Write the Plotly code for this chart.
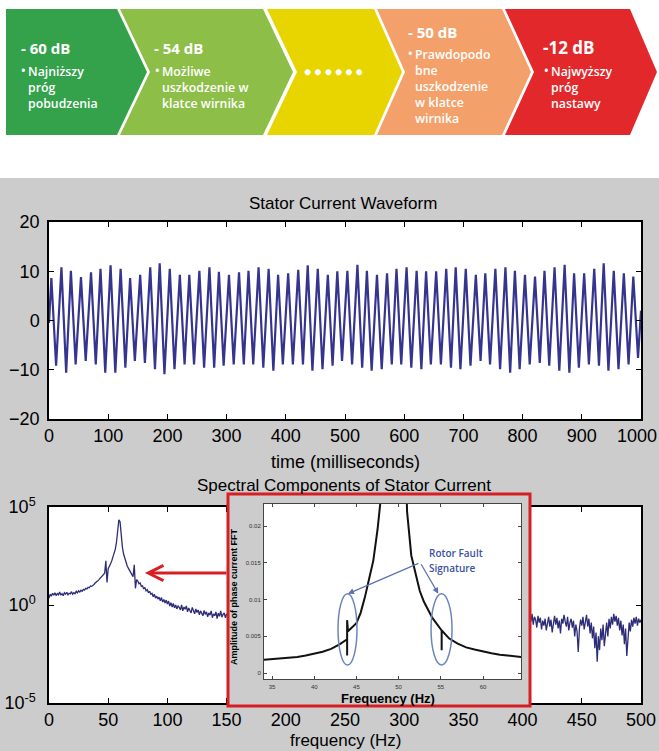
import plotly.graph_objects as go

W, H = 659, 751
def px(x):
    return x / W
def py(y):
    return 1 - y / H

GRAY = "#cccccc"
FONT = "Liberation Sans, Arial, sans-serif"

# ---------------- banner data ----------------
banner_colors = ["#33a24b", "#8dbe48", "#e8d500", "#f4a06b", "#e2282b"]
banner_headers = ["- 60 dB", "- 54 dB", "", "- 50 dB", "-12 dB"]
banner_lines = [
    ["Najniższy", "próg", "pobudzenia"],
    ["Możliwe", "uszkodzenie w", "klatce wirnika"],
    [],
    ["Prawdopodo", "bne", "uszkodzenie", "w klatce", "wirnika"],
    ["Najwyższy", "próg", "nastawy"],
]

# ---------------- waveform data (ms, A) ----------------
time_ticks = [0, 100, 200, 300, 400, 500, 600, 700, 800, 900, 1000]
peak_t = [4, 21, 37, 54, 71, 87, 104, 121, 137, 154, 171, 187, 204, 221, 237, 254, 271, 287, 304, 321,
          337, 354, 371, 387, 404, 421, 437, 454, 471, 487, 504, 521, 537, 554, 571, 587, 604, 621, 637, 654,
          671, 687, 704, 721, 737, 754, 771, 787, 804, 821, 837, 854, 871, 887, 904, 921, 937, 954, 971, 987]
peak_i = [8.6, 10.8, 10.1, 8.8, 9.8, 10.5, 11.2, 10.5, 8.6, 9.3, 10.8, 11.6, 10.5, 9.3, 9.3, 10.1, 10.8, 9.9, 9.3, 9.8,
          10.1, 10.8, 10.5, 9.3, 9.6, 10.3, 11.2, 10.5, 9.3, 10.0, 10.1, 11.3, 10.1, 9.3, 9.6, 10.5, 10.8, 10.1, 10.0, 10.0,
          10.5, 10.8, 10.5, 9.3, 9.6, 10.5, 10.8, 10.1, 9.3, 8.9, 10.1, 10.8, 11.3, 9.6, 9.6, 10.5, 11.6, 10.1, 9.6, 8.9]
trough_t = [12, 29, 45, 62, 79, 95, 112, 129, 145, 162, 179, 195, 212, 229, 245, 262, 279, 295, 312, 329,
            345, 362, 379, 395, 412, 429, 445, 462, 479, 495, 512, 529, 545, 562, 579, 595, 612, 629, 645, 662,
            679, 695, 712, 729, 745, 762, 779, 795, 812, 829, 845, 862, 879, 895, 912, 929, 945, 962, 979, 995]
trough_i = [-9.2, -10.6, -8.9, -8.2, -8.9, -10.6, -10.6, -9.6, -8.2, -8.6, -9.9, -10.9, -9.9, -8.9, -8.9, -9.6, -9.6, -9.2, -8.9, -8.9,
            -8.9, -9.6, -10.2, -8.9, -8.9, -8.9, -10.2, -9.9, -9.2, -8.2, -8.9, -9.6, -10.2, -9.9, -8.9, -8.9, -9.6, -9.9, -8.9, -8.9,
            -9.6, -9.9, -9.2, -8.2, -8.9, -9.9, -10.6, -9.9, -8.9, -8.6, -9.2, -10.2, -10.6, -9.6, -8.9, -9.2, -10.2, -9.9, -8.9, -7.6]
wave_start = [0, -0.5]
wave_end = [1000, 2.0]

# ---------------- spectrum data (Hz, log10 amplitude) ----------------
freq_ticks = [0, 50, 100, 150, 200, 250, 300, 350, 400, 450, 500]
spec_left_f = list(range(0, 152))
spec_left_log = [
    0.35, 0.55, 0.45, 0.60, 0.50, 0.62, 0.48, 0.58, 0.52, 0.66,
    0.50, 0.58, 0.47, 0.62, 0.55, 0.65, 0.52, 0.60, 0.57, 0.68,
    0.55, 0.63, 0.58, 0.70, 0.62, 0.72, 0.66, 0.75, 0.70, 0.80,
    0.76, 0.85, 0.82, 0.90, 0.88, 0.97, 0.95, 1.03, 1.05, 1.12,
    1.15, 1.22, 1.28, 1.35, 1.42, 1.50, 1.58, 1.62, 2.25, 1.15,
    1.85, 1.95, 2.10, 2.25, 2.42, 2.62, 2.85, 3.20, 3.70, 4.35,
    4.25, 3.55, 2.95, 2.60, 2.35, 2.15, 2.00, 1.88, 1.75, 1.65,
    1.55, 1.45, 2.05, 0.85, 1.30, 1.22, 1.08, 1.12, 0.95, 0.98,
    0.82, 0.90, 0.72, 0.78, 0.62, 0.70, 0.55, 0.60, 0.42, 0.55,
    0.35, 0.45, 0.30, 0.40, 0.22, 0.38, 0.15, 0.28, 0.10, 0.25,
    0.05, 0.20, -0.05, 0.12, -0.10, 0.08, -0.15, 0.00, -0.20, -0.05,
    -0.12, -0.25, 0.00, -0.30, -0.10, -0.22, -0.05, -0.35, -0.15, -0.28,
    -0.40, -0.12, -0.30, -0.45, -0.20, -0.38, -0.25, -0.50, -0.30, -0.42,
    -0.55, -0.28, -0.48, -0.35, -0.60, -0.40, -0.52, -0.30, -0.65, -0.45,
    -0.55, -0.35, -0.70, -0.42, -0.58, -0.30, -0.62, -0.48, -0.40, -0.65,
    -0.45, -0.55]
spec_right_f = list(range(406, 501))
spec_right_log = [
    -0.55, -0.85, -0.45, -1.00, -0.60, -0.75, -1.15, -0.55, -0.90, -0.65,
    -1.25, -0.80, -1.05, -0.70, -1.30, -0.85, -0.60, -1.10, -0.75, -1.40,
    -0.90, -0.55, -1.00, -0.65, -1.20, -0.80, -1.45, -0.70, -0.95, -0.50,
    -0.85, -1.10, -0.60, -1.30, -0.90, -0.70, -1.15, -0.80, -1.60, -1.00,
    -1.35, -2.40, -1.20, -0.75, -1.05, -0.60, -1.25, -0.85, -0.50, -1.10,
    -0.70, -1.45, -0.90, -1.70, -1.10, -2.20, -1.40, -2.90, -1.60, -2.30,
    -1.20, -1.80, -1.00, -2.10, -1.30, -0.90, -1.60, -0.70, -1.20, -0.60,
    -1.00, -0.45, -0.85, -0.55, -1.05, -0.65, -1.30, -0.80, -1.55, -1.00,
    -2.00, -1.20, -2.60, -1.50, -0.90, -1.35, -0.75, -1.10, -0.65, -0.95,
    -0.60, -1.05, -0.70, -0.90, -0.75]

# ---------------- inset FFT data ----------------
inset_f = [34, 35, 36, 37, 38, 39, 40, 41, 42, 43, 43.9, 43.9, 43.9, 44.0, 44.5, 45, 45.5, 46, 46.5, 47,
           47.5, 48, 48.5, 49, 49.5, 50, 50.5, 51, 51.5, 52, 52.5, 53, 54, 55.1, 55.1, 55.1, 55.2, 56, 57, 58,
           59, 60, 61, 62, 63, 64, 64.5]
inset_a = [0.0018, 0.0019, 0.0020, 0.0021, 0.0022, 0.0024, 0.0026, 0.0029, 0.0033, 0.0039, 0.0046, 0.0024, 0.0072,
           0.0057, 0.0062, 0.0068, 0.0082, 0.0103, 0.0128, 0.0153, 0.0195, 0.025, 0.040, 0.090, 0.300, 0.150,
           0.045, 0.022, 0.016, 0.0135, 0.0112, 0.0097, 0.0075, 0.0058, 0.0031, 0.0058, 0.0057, 0.0047, 0.0040,
           0.0035, 0.0032, 0.0029, 0.0027, 0.0025, 0.0024, 0.0022, 0.0022]

# ---------------- build figure ----------------
fig = go.Figure()

wave_x = [wave_start[0]]
wave_y = [wave_start[1]]
for tp, ip, tt, it in zip(peak_t, peak_i, trough_t, trough_i):
    wave_x += [tp, tt]
    wave_y += [ip, it]
wave_x.append(wave_end[0])
wave_y.append(wave_end[1])

fig.add_trace(go.Scatter(x=wave_x, y=wave_y, mode="lines",
                         line=dict(color="#35358f", width=2.2),
                         xaxis="x", yaxis="y", showlegend=False, hoverinfo="skip"))

fig.add_trace(go.Scatter(x=spec_left_f, y=[10 ** v for v in spec_left_log], mode="lines",
                         line=dict(color="#2c2c78", width=1.3),
                         xaxis="x2", yaxis="y2", showlegend=False, hoverinfo="skip"))
fig.add_trace(go.Scatter(x=spec_right_f, y=[10 ** v for v in spec_right_log], mode="lines",
                         line=dict(color="#2c2c78", width=1.3),
                         xaxis="x2", yaxis="y2", showlegend=False, hoverinfo="skip"))

# gray backing panel of inset (dummy subplot)
fig.add_trace(go.Scatter(x=[0, 1, 1, 0, 0], y=[0, 0, 1, 1, 0], mode="lines", fill="toself",
                         fillcolor=GRAY, line=dict(width=0),
                         xaxis="x3", yaxis="y3", showlegend=False, hoverinfo="skip"))

fig.add_trace(go.Scatter(x=inset_f, y=inset_a, mode="lines",
                         line=dict(color="#111111", width=2),
                         xaxis="x4", yaxis="y4", showlegend=False, hoverinfo="skip"))

axis_common = dict(showline=True, linecolor="black", linewidth=1.5, mirror="ticks",
                   ticks="inside", ticklen=5, tickwidth=1.3, tickcolor="black",
                   showgrid=False, zeroline=False, automargin=False, ticklabeloverflow="allow",
                   tickfont=dict(family=FONT, size=18, color="black"))

inset_axis = dict(showline=True, linecolor="#444444", linewidth=1, mirror="ticks",
                  ticks="inside", ticklen=3, tickwidth=1, tickcolor="#444444",
                  showgrid=False, zeroline=False, automargin=False, ticklabeloverflow="allow",
                  tickfont=dict(family=FONT, size=6, color="#333333"))

time_text = [str(v) for v in time_ticks[:-1]] + [""]

fig.update_layout(
    width=W, height=H, autosize=False,
    margin=dict(l=0, r=0, t=0, b=0, pad=0, autoexpand=False),
    paper_bgcolor=GRAY, plot_bgcolor="white",
    showlegend=False,
    xaxis=dict(axis_common, domain=[px(49), px(641)], range=[0, 1000],
               tickvals=time_ticks, ticktext=time_text,
               anchor="y", ticklabelstandoff=0),
    yaxis=dict(axis_common, domain=[py(419), py(222)], range=[-20, 20],
               tickvals=[-20, -10, 0, 10, 20], anchor="x", ticklabelstandoff=4),
    xaxis2=dict(axis_common, domain=[px(49), px(641)], range=[0, 500],
                tickvals=freq_ticks, anchor="y2", ticklabelstandoff=0),
    yaxis2=dict(axis_common, domain=[py(703), py(507)], type="log", range=[-5, 5],
                tickvals=[1e-5, 1, 1e5],
                ticktext=["10<sup>-5</sup>", "10<sup>0</sup>", "10<sup>5</sup>"],
                anchor="x2", ticklabelstandoff=8),
    xaxis3=dict(domain=[px(228), px(530)], range=[0, 1], visible=False, anchor="y3", automargin=False),
    yaxis3=dict(domain=[py(706), py(494)], range=[0, 1], visible=False, anchor="x3", automargin=False),
    xaxis4=dict(inset_axis, domain=[px(264), px(521)], range=[34.05, 64.5],
                tickvals=[35, 40, 45, 50, 55, 60], anchor="y4", ticklabelstandoff=2),
    yaxis4=dict(inset_axis, domain=[py(679), py(504)], range=[-0.0008, 0.023],
                tickvals=[0, 0.005, 0.01, 0.015, 0.02],
                ticktext=["0", "0.005", "0.01", "0.015", "0.02"],
                anchor="x4", ticklabelstandoff=1),
)

shapes = []
# white banner area
shapes.append(dict(type="rect", xref="paper", yref="paper", x0=0, x1=1, y0=py(178), y1=1,
                   fillcolor="white", line=dict(width=0), layer="below"))
# chevrons
chev = [
    [(6, 9), (117, 9), (147, 72), (117, 135), (6, 135)],
    [(120, 9), (263, 9), (293, 72), (263, 135), (120, 135), (150, 72)],
    [(267, 9), (374, 9), (402, 72), (374, 135), (267, 135), (297, 72)],
    [(377, 9), (502, 9), (531, 72), (502, 135), (377, 135), (405, 72)],
    [(505, 9), (630, 9), (657, 72), (630, 135), (505, 135), (534, 72)],
]
for pts, col in zip(chev, banner_colors):
    path = "M " + " L ".join(f"{px(a):.5f},{py(b):.5f}" for a, b in pts) + " Z"
    shapes.append(dict(type="path", xref="paper", yref="paper", path=path,
                       fillcolor=col, line=dict(width=0), layer="below"))
# red frame around inset
shapes.append(dict(type="rect", xref="paper", yref="paper", x0=px(228), x1=px(530),
                   y0=py(706), y1=py(494), line=dict(color="#d81e22", width=3)))
# ellipses in inset
for x0, x1 in [(42.82, 45.07), (53.84, 56.33)]:
    shapes.append(dict(type="circle", xref="x4", yref="y4", x0=x0, x1=x1, y0=0.0011, y1=0.0108,
                       line=dict(color="#6a86b8", width=1.5)))
fig.update_layout(shapes=shapes)

ann = []
def txt(x, y, s, size, color="black", family=FONT, xanchor="center", weight=None, angle=0,
        yanchor="middle", align="center"):
    f = dict(family=family, size=size, color=color)
    if weight:
        f["weight"] = weight
    ann.append(dict(x=px(x), y=py(y), xref="paper", yref="paper", text=s, showarrow=False,
                    font=f, xanchor=xanchor, yanchor=yanchor, textangle=angle, align=align,
                    borderpad=0))

BF = "Open Sans, Lato, sans-serif"
head_pos = [(20, 48, 15), (153, 48, 15), None, (407, 32, 15), (542, 47, 17)]
line_pos = [(27, 70), (161, 70), None, (414, 53), (550, 70)]
LINE_FS = 12.3
for hp, lp, head, lines in zip(head_pos, line_pos, banner_headers, banner_lines):
    if hp is None:
        continue
    txt(hp[0], hp[1], head, hp[2], "white", BF, "left", weight=700)
    txt(lp[0], lp[1], "•", LINE_FS, "white", BF, "right", weight=600)
    txt(lp[0], lp[1] - 8, "<br>".join(lines), LINE_FS, "white", BF, "left", weight=600,
        yanchor="top", align="left")
txt(333, 72, "● ● ● ● ● ●", 12, "white", BF)

# main titles / labels
txt(343, 203, "Stator Current Waveform", 17)
txt(345, 462, "time (milliseconds)", 18)
txt(658, 436, str(time_ticks[-1]), 18, xanchor="right")
txt(344, 485, "Spectral Components of Stator Current", 17)
txt(345, 740, "frequency (Hz)", 17)
txt(234, 597, "<b>Amplitude of phase current FFT</b>", 9, angle=-90)
txt(388, 698, "<b>Frequency (Hz)</b>", 13)
txt(428, 553, "Rotor Fault", 10, "#3b52a0", BF, "left", weight=600)
txt(428, 568, "Signature", 10, "#3b52a0", BF, "left", weight=600)

# arrows
ann.append(dict(x=81, y=1.63, xref="x2", yref="y2", ax=83, ay=0, text="", showarrow=True,
                arrowhead=5, arrowsize=1.0, arrowwidth=3, arrowcolor="#d81e22"))
ann.append(dict(x=44.0, y=0.0108, xref="x4", yref="y4", ax=72, ay=-31, text="", showarrow=True,
                arrowhead=2, arrowsize=1.0, arrowwidth=1.2, arrowcolor="#5a73b0"))
ann.append(dict(x=54.7, y=0.0108, xref="x4", yref="y4", ax=-18, ay=-31, text="", showarrow=True,
                arrowhead=2, arrowsize=1.0, arrowwidth=1.2, arrowcolor="#5a73b0"))
fig.update_layout(annotations=ann)

fig.write_html("out.html")
